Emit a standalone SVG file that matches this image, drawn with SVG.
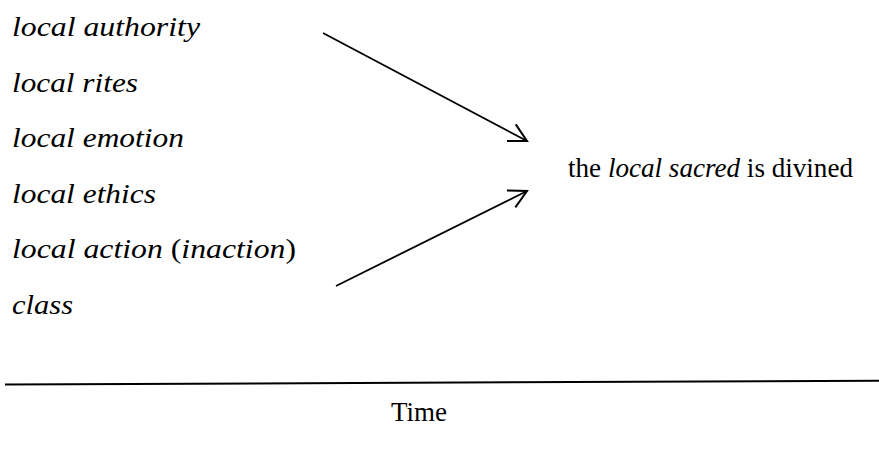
<svg xmlns="http://www.w3.org/2000/svg" width="879" height="453" viewBox="0 0 879 453">
<style>
text{font-family:"Liberation Serif","Times New Roman","DejaVu Serif",serif;font-size:27px;fill:#000}
.i{font-style:italic}
.c{stroke:#000;stroke-width:1.8;fill:none}
</style>
<defs>
<marker id="ah" markerUnits="userSpaceOnUse" markerWidth="30" markerHeight="30" viewBox="-20 -15 25 30" refX="0" refY="0" orient="auto">
<path d="M-17.7,-9.4 L0,0 L-17.7,9.4" fill="none" stroke="#000" stroke-width="2"/>
</marker>
</defs>
<rect width="879" height="453" fill="#fff"/>
<g id="factors" font-family="Liberation Serif, serif">
<text class="i" x="12" y="36" textLength="188" lengthAdjust="spacingAndGlyphs">local authority</text>
<text class="i" x="12" y="91.5" textLength="126" lengthAdjust="spacingAndGlyphs">local rites</text>
<text class="i" x="12" y="147" textLength="172" lengthAdjust="spacingAndGlyphs">local emotion</text>
<text class="i" x="12" y="202.5" textLength="144" lengthAdjust="spacingAndGlyphs">local ethics</text>
<text x="12" y="258" textLength="284" lengthAdjust="spacingAndGlyphs"><tspan class="i">local action</tspan> (<tspan class="i">inaction</tspan>)</text>
<text class="i" x="12" y="313.5" textLength="61" lengthAdjust="spacingAndGlyphs">class</text>
</g>
<g id="result" font-family="Liberation Serif, serif">
<text x="568" y="177" textLength="285" lengthAdjust="spacingAndGlyphs">the <tspan class="i">local sacred</tspan> is divined</text>
</g>
<g id="time" font-family="Liberation Serif, serif">
<text x="391" y="421">Time</text>
</g>
<g id="connectors">
<line class="c" x1="323" y1="33" x2="527" y2="141" marker-end="url(#ah)"/>
<line class="c" x1="336" y1="286" x2="527" y2="191" marker-end="url(#ah)"/>
<line x1="5" y1="384.5" x2="879" y2="380.7" stroke="#000" stroke-width="2"/>
</g>
</svg>
